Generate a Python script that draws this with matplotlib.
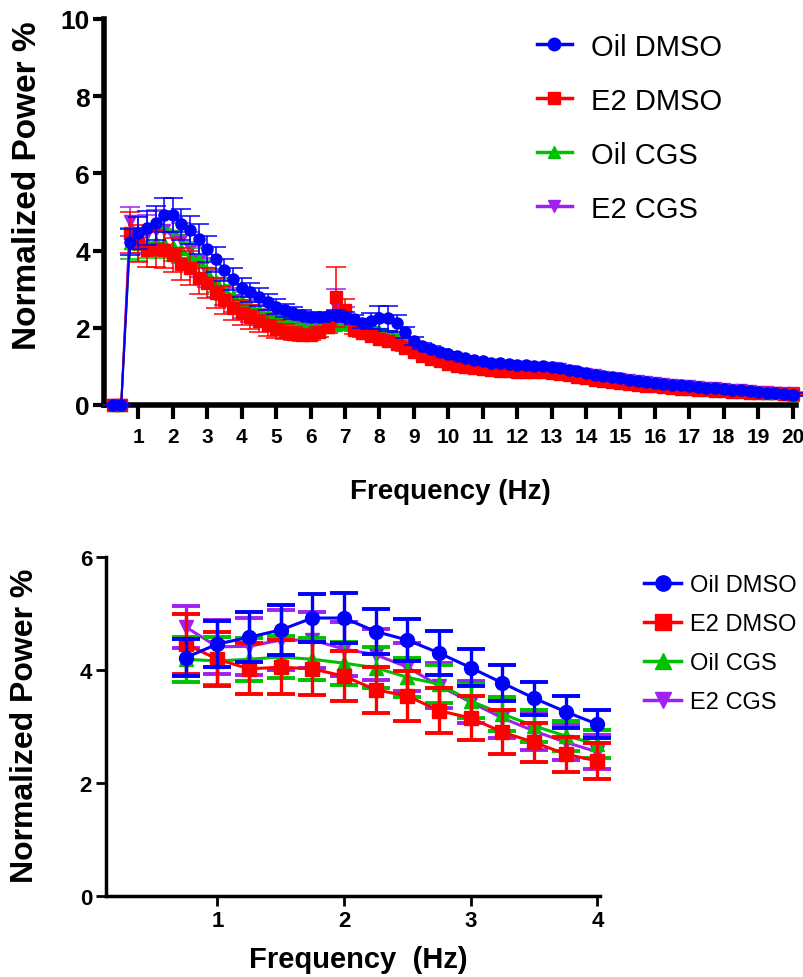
import numpy as np
import matplotlib
matplotlib.use("Agg")
import matplotlib.pyplot as plt
from matplotlib.lines import Line2D

# Frequency bins (Hz), 0.25 Hz resolution
freq = np.arange(1, 81) * 0.25

# Mean normalized power (%) per frequency bin
oil_dmso = [
    0.00, 0.00,
    4.22, 4.46, 4.58, 4.71, 4.92, 4.92, 4.68, 4.53, 4.30, 4.04, 3.77, 3.50, 3.26, 3.04,
    2.92, 2.80, 2.67, 2.55, 2.45, 2.38, 2.32, 2.28, 2.27, 2.30, 2.33, 2.28, 2.22, 2.12,
    2.18, 2.26, 2.25, 2.12, 1.88, 1.66, 1.52, 1.45, 1.38, 1.31, 1.27, 1.22, 1.17, 1.13,
    1.10, 1.08, 1.06, 1.04, 1.03, 1.02, 1.00, 0.98, 0.95, 0.91, 0.87, 0.83, 0.79, 0.75,
    0.72, 0.69, 0.66, 0.63, 0.60, 0.58, 0.55, 0.53, 0.51, 0.49, 0.47, 0.45, 0.43, 0.41,
    0.40, 0.38, 0.36, 0.34, 0.32, 0.30, 0.29, 0.27,
]
e2_dmso = [
    0.00, 0.00,
    4.46, 4.19, 4.02, 4.05, 4.02, 3.89, 3.65, 3.54, 3.28, 3.15, 2.90, 2.72, 2.51, 2.39,
    2.28, 2.18, 2.06, 1.97, 1.90, 1.85, 1.82, 1.82, 1.88, 2.02, 2.80, 2.45, 1.95, 1.87,
    1.80, 1.72, 1.65, 1.57, 1.48, 1.38, 1.28, 1.20, 1.13, 1.07, 1.02, 0.98, 0.95, 0.92,
    0.90, 0.88, 0.87, 0.86, 0.86, 0.86, 0.85, 0.84, 0.81, 0.77, 0.73, 0.69, 0.66, 0.63,
    0.60, 0.57, 0.55, 0.52, 0.50, 0.48, 0.46, 0.44, 0.42, 0.41, 0.39, 0.38, 0.36, 0.35,
    0.34, 0.33, 0.32, 0.31, 0.30, 0.30, 0.29, 0.29,
]
oil_cgs = [
    0.00, 0.00,
    4.19, 4.16, 4.19, 4.23, 4.19, 4.12, 4.04, 3.87, 3.75, 3.45, 3.22, 3.01, 2.83, 2.69,
    2.57, 2.46, 2.36, 2.27, 2.19, 2.12, 2.07, 2.04, 2.02, 2.02, 2.08, 2.10, 2.05, 1.97,
    1.92, 1.88, 1.82, 1.74, 1.64, 1.52, 1.43, 1.36, 1.30, 1.25, 1.21, 1.17, 1.13, 1.09,
    1.06, 1.04, 1.02, 1.00, 0.99, 0.98, 0.96, 0.94, 0.91, 0.87, 0.83, 0.79, 0.76, 0.72,
    0.69, 0.66, 0.63, 0.60, 0.58, 0.55, 0.53, 0.51, 0.49, 0.47, 0.45, 0.43, 0.41, 0.40,
    0.38, 0.36, 0.35, 0.33, 0.31, 0.30, 0.28, 0.27,
]
e2_cgs = [
    0.00, 0.00,
    4.76, 4.41, 4.42, 4.53, 4.53, 4.37, 4.27, 4.05, 3.72, 3.43, 3.15, 2.92, 2.72, 2.55,
    2.44, 2.34, 2.25, 2.17, 2.11, 2.06, 2.03, 2.02, 2.05, 2.15, 2.55, 2.30, 2.05, 1.96,
    1.90, 1.84, 1.77, 1.68, 1.58, 1.47, 1.38, 1.31, 1.25, 1.20, 1.16, 1.12, 1.09, 1.06,
    1.04, 1.02, 1.00, 0.99, 0.98, 0.97, 0.96, 0.95, 0.92, 0.88, 0.84, 0.80, 0.77, 0.73,
    0.70, 0.67, 0.64, 0.62, 0.59, 0.57, 0.54, 0.52, 0.50, 0.48, 0.46, 0.44, 0.43, 0.41,
    0.39, 0.38, 0.36, 0.34, 0.33, 0.32, 0.31, 0.30,
]

# Standard error of the mean per frequency bin
oil_dmso_sem = [
    0.00, 0.00,
    0.33, 0.41, 0.44, 0.44, 0.43, 0.45, 0.40, 0.37, 0.39, 0.33, 0.32, 0.29, 0.28, 0.25,
    0.24, 0.23, 0.21, 0.19, 0.17, 0.15, 0.13, 0.12, 0.11, 0.11, 0.12, 0.12, 0.11, 0.12,
    0.20, 0.30, 0.32, 0.22, 0.15, 0.10, 0.08, 0.07, 0.07, 0.06, 0.06, 0.06, 0.06, 0.06,
    0.05, 0.05, 0.05, 0.05, 0.05, 0.05, 0.05, 0.05, 0.05, 0.05, 0.05, 0.05, 0.05, 0.04,
    0.04, 0.04, 0.04, 0.04, 0.04, 0.04, 0.04, 0.04, 0.04, 0.04, 0.03, 0.03, 0.03, 0.03,
    0.03, 0.03, 0.03, 0.03, 0.03, 0.03, 0.03, 0.03,
]
e2_dmso_sem = [
    0.00, 0.00,
    0.53, 0.48, 0.45, 0.48, 0.47, 0.44, 0.41, 0.44, 0.40, 0.39, 0.39, 0.35, 0.31, 0.32,
    0.30, 0.28, 0.26, 0.23, 0.20, 0.17, 0.15, 0.13, 0.13, 0.15, 0.78, 0.30, 0.12, 0.10,
    0.10, 0.09, 0.09, 0.08, 0.08, 0.07, 0.07, 0.06, 0.06, 0.06, 0.05, 0.05, 0.05, 0.05,
    0.05, 0.05, 0.05, 0.05, 0.05, 0.05, 0.05, 0.05, 0.05, 0.05, 0.05, 0.05, 0.05, 0.04,
    0.04, 0.04, 0.04, 0.04, 0.04, 0.04, 0.04, 0.04, 0.04, 0.04, 0.03, 0.03, 0.03, 0.03,
    0.03, 0.03, 0.03, 0.03, 0.03, 0.03, 0.03, 0.03,
]
oil_cgs_sem = [
    0.00, 0.00,
    0.40, 0.42, 0.38, 0.38, 0.37, 0.38, 0.36, 0.35, 0.33, 0.30, 0.30, 0.28, 0.27, 0.25,
    0.24, 0.22, 0.20, 0.18, 0.16, 0.14, 0.13, 0.12, 0.11, 0.11, 0.12, 0.12, 0.11, 0.10,
    0.10, 0.09, 0.09, 0.08, 0.08, 0.07, 0.07, 0.06, 0.06, 0.06, 0.05, 0.05, 0.05, 0.05,
    0.05, 0.05, 0.05, 0.05, 0.05, 0.05, 0.05, 0.05, 0.05, 0.05, 0.05, 0.05, 0.05, 0.04,
    0.04, 0.04, 0.04, 0.04, 0.04, 0.04, 0.04, 0.04, 0.04, 0.04, 0.03, 0.03, 0.03, 0.03,
    0.03, 0.03, 0.03, 0.03, 0.03, 0.03, 0.03, 0.03,
]
e2_cgs_sem = [
    0.00, 0.00,
    0.37, 0.48, 0.50, 0.53, 0.50, 0.48, 0.45, 0.42, 0.40, 0.37, 0.35, 0.33, 0.31, 0.30,
    0.28, 0.26, 0.24, 0.21, 0.18, 0.16, 0.14, 0.13, 0.13, 0.15, 0.45, 0.25, 0.12, 0.10,
    0.10, 0.09, 0.09, 0.08, 0.08, 0.07, 0.07, 0.06, 0.06, 0.06, 0.05, 0.05, 0.05, 0.05,
    0.05, 0.05, 0.05, 0.05, 0.05, 0.05, 0.05, 0.05, 0.05, 0.05, 0.05, 0.05, 0.05, 0.04,
    0.04, 0.04, 0.04, 0.04, 0.04, 0.04, 0.04, 0.04, 0.04, 0.04, 0.03, 0.03, 0.03, 0.03,
    0.03, 0.03, 0.03, 0.03, 0.03, 0.03, 0.03, 0.03,
]

labels = ["Oil DMSO", "E2 DMSO", "Oil CGS", "E2 CGS"]
colors = ["#0000FF", "#FF0000", "#00C000", "#A020F0"]
markers = ["o", "s", "^", "v"]
means = [oil_dmso, e2_dmso, oil_cgs, e2_cgs]
sems = [oil_dmso_sem, e2_dmso_sem, oil_cgs_sem, e2_cgs_sem]

top_ticks_x = list(range(1, 21))
top_ticks_y = [0, 2, 4, 6, 8, 10]
zoom_ticks_x = [1, 2, 3, 4]
zoom_ticks_y = [0, 2, 4, 6]
zoom_lo, zoom_hi = 0.75, 4.0

sans = ["Liberation Sans", "DejaVu Sans"]

W, H = 804, 978
fig = plt.figure(figsize=(W / 100, H / 100), dpi=100)


def px_rect(x0, y0, x1, y1):
    return [x0 / W, 1 - y1 / H, (x1 - x0) / W, (y1 - y0) / H]


def draw_series(ax, xs, ys, es, ms, lw, elw, cs, ct):
    order = [3, 2, 1, 0]
    for z, i in enumerate(order):
        cont = ax.errorbar(xs, ys[i], yerr=es[i], color=colors[i], marker=markers[i],
                           markersize=ms, lw=lw, elinewidth=elw, capsize=cs,
                           capthick=ct, zorder=3 + z)
        for art in cont.get_children():
            art.set_clip_on(False)


def style_axes(ax, spine_w, tick_len_x, tick_len_y, tick_w):
    for s in ["top", "right"]:
        ax.spines[s].set_visible(False)
    for s in ["left", "bottom"]:
        ax.spines[s].set_linewidth(spine_w)
        ax.spines[s].set_capstyle("projecting")
    ax.tick_params(axis="x", length=tick_len_x, width=tick_w, direction="out")
    ax.tick_params(axis="y", length=tick_len_y, width=tick_w, direction="out")


# ---- full spectrum ----
ax1 = fig.add_axes(px_rect(104, 20, 796, 406))
draw_series(ax1, freq, means, sems, ms=8, lw=1.5, elw=1.1, cs=7, ct=1.1)
ax1.set_xlim(0, 20.1)
ax1.set_ylim(0, 10)
ax1.set_xticks(top_ticks_x)
ax1.set_yticks(top_ticks_y)
style_axes(ax1, 4, 10, 8, 3)
ax1.tick_params(axis="x", pad=6)
ax1.tick_params(axis="y", pad=2)
for t in ax1.get_xticklabels():
    t.set_fontfamily(sans)
    t.set_fontweight("bold")
    t.set_fontsize(15)
for t in ax1.get_yticklabels():
    t.set_fontfamily(sans)
    t.set_fontweight("bold")
    t.set_fontsize(19)

handles = [Line2D([], [], color=c, marker=m, markersize=9, lw=2.5)
           for c, m in zip(colors, markers)]
fig.legend(handles, labels, loc="upper left", bbox_to_anchor=(525 / W, 1 - 22 / H),
           frameon=False, prop={"family": sans, "size": 21},
           handlelength=1.2, handletextpad=0.65, labelspacing=0.89, borderaxespad=0)

fig.text(450 / W, 1 - 492 / H, "Frequency (Hz)", ha="center", va="center",
         fontsize=20, fontweight="bold", family=sans)
fig.text(28 / W, 1 - 186 / H, "Normalized Power %", ha="center", va="center",
         rotation=90, fontsize=24, fontweight="bold", family=sans)

# ---- low-frequency detail ----
sel = (freq >= zoom_lo) & (freq <= zoom_hi)
ax2 = fig.add_axes(px_rect(106, 558, 600, 897))
draw_series(ax2, freq[sel], [np.asarray(m)[sel] for m in means],
            [np.asarray(s)[sel] for s in sems], ms=10, lw=2.2, elw=2.4, cs=10, ct=2.8)
ax2.set_xlim(0.12, 4.02)
ax2.set_ylim(0, 6)
ax2.set_xticks(zoom_ticks_x)
ax2.set_yticks(zoom_ticks_y)
style_axes(ax2, 2.5, 7, 7, 2)
ax2.tick_params(axis="both", pad=3)
for t in ax2.get_xticklabels() + ax2.get_yticklabels():
    t.set_fontfamily(sans)
    t.set_fontweight("bold")
    t.set_fontsize(16)

handles2 = [Line2D([], [], color=c, marker=m, markersize=11, lw=2.5)
            for c, m in zip(colors, markers)]
fig.legend(handles2, labels, loc="upper left", bbox_to_anchor=(635 / W, 1 - 566 / H),
           frameon=False, prop={"family": sans, "size": 17},
           handlelength=1.55, handletextpad=0.4, labelspacing=0.72, borderaxespad=0)

fig.text(358 / W, 1 - 960 / H, "Frequency  (Hz)", ha="center", va="center",
         fontsize=21, fontweight="bold", family=sans)
fig.text(25 / W, 1 - 726 / H, "Normalized Power %", ha="center", va="center",
         rotation=90, fontsize=23, fontweight="bold", family=sans)

fig.savefig("out.png", dpi=100)
